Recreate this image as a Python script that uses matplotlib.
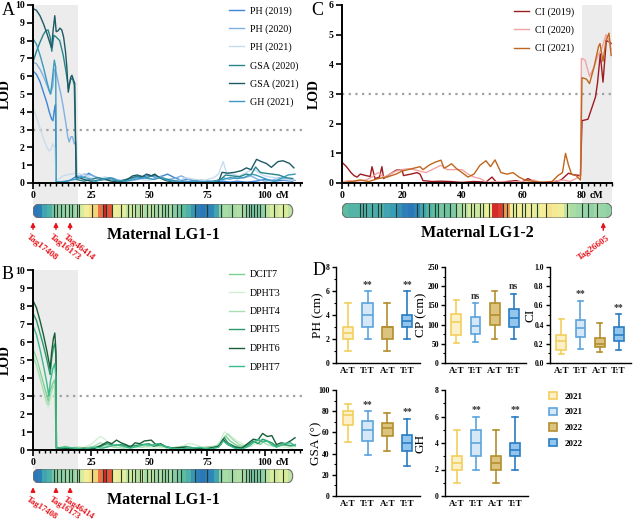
import matplotlib
matplotlib.use('Agg')
import matplotlib.pyplot as plt
import matplotlib.patches as patches
from matplotlib.colors import LinearSegmentedColormap
from matplotlib.ticker import MultipleLocator

plt.rcParams['font.family'] = 'Liberation Serif'

W, H = 633, 526

# ---------------- data: panel A (LG1-1, plant height / angle traits) ----------------
a_names = ['PH (2019)', 'PH (2020)', 'PH (2021)', 'GSA (2020)', 'GSA (2021)', 'GH (2021)']
a_colors = ['#3d85d8', '#7fb1e3', '#c8dcef', '#27848a', '#1e5a66', '#3a9bbd']
ph2019 = [(0, 6.3), (1.5, 6.1), (3, 5.7), (4.5, 5.1), (6, 4.5), (7, 4.0), (8, 3.6), (8.6, 3.5), (9.2, 4.1),
          (9.7, 4.4), (10.0, 0.05), (13, 0.05), (16, 0.15), (19, 0.4), (22, 0.3), (24, 0.55), (26, 0.4),
          (29, 0.2), (32, 0.3), (35, 0.15), (38, 0.1), (41, 0.2), (44, 0.35), (47, 0.3), (50, 0.45), (53, 0.3),
          (56, 0.4), (58, 0.5), (61, 0.3), (64, 0.15), (67, 0.2), (70, 0.1), (73, 0.15), (76, 0.1), (79, 0.05),
          (82, 0.1), (85, 0.05), (88, 0.1), (92, 0.05), (96, 0.1), (100, 0.2), (104, 0.1), (108, 0.15), (112, 0.1)]
ph2020 = [(0, 6.8), (1.5, 6.7), (3, 6.4), (4.5, 6.0), (6, 5.5), (7.5, 5.0), (8.5, 5.4), (9.2, 6.4), (10, 6.2),
          (11, 5.6), (12, 5.0), (13, 4.3), (14, 3.5), (15, 2.6), (15.6, 2.3), (16.4, 2.6), (17, 2.6), (17.8, 2.2),
          (18.5, 2.3), (18.9, 0.3), (22, 0.5), (25, 0.45), (28, 0.3), (31, 0.2), (34, 0.3), (37, 0.15), (40, 0.1),
          (43, 0.25), (46, 0.2), (49, 0.3), (52, 0.2), (55, 0.35), (58, 0.2), (61, 0.25), (64, 0.4), (67, 0.2),
          (70, 0.15), (73, 0.1), (76, 0.05), (79, 0.1), (82, 0.3), (85, 0.2), (88, 0.35), (91, 0.3), (94, 0.4),
          (97, 0.2), (100, 0.1), (103, 0.15), (106, 0.3), (110, 0.2), (113, 0.15)]
ph2021 = [(0, 4.2), (1.5, 3.7), (3, 3.1), (4.5, 2.5), (6, 2.0), (7, 1.8), (7.6, 1.85), (8.6, 2.2), (9.4, 2.0),
          (10.0, 0.1), (13, 0.4), (16, 0.5), (19, 0.55), (22, 0.45), (25, 0.3), (28, 0.2), (31, 0.35), (34, 0.2),
          (38, 0.15), (42, 0.1), (46, 0.2), (50, 0.15), (54, 0.3), (58, 0.2), (62, 0.1), (66, 0.3), (70, 0.2),
          (74, 0.15), (78, 0.3), (80, 0.5), (82, 1.2), (83.5, 0.55), (86, 0.5), (89, 0.4), (92, 0.6), (95, 0.8),
          (97, 0.6), (100, 0.4), (104, 0.3), (108, 0.2), (112, 0.15)]
gsa2020 = [(0, 6.8), (1.5, 7.4), (3, 7.9), (4.5, 8.35), (5.5, 8.55), (6.5, 8.6), (7.4, 8.2), (8.1, 7.4), (9, 8.3),
           (10, 8.2), (11.5, 8.0), (13, 7.2), (14.3, 6.2), (15.3, 5.3), (16.2, 5.8), (17, 5.9), (17.8, 5.5),
           (18.7, 0.2), (22, 0.1), (25, 0.2), (28, 0.3), (31, 0.2), (34, 0.25), (37, 0.1), (40, 0.2), (43, 0.3),
           (46, 0.4), (49, 0.3), (52, 0.45), (55, 0.3), (58, 0.2), (62, 0.1), (66, 0.05), (70, 0.1), (74, 0.05),
           (78, 0.1), (81, 0.2), (83, 0.45), (86, 0.4), (89, 0.35), (92, 0.5), (94, 0.45), (96, 0.9), (98, 0.6),
           (100, 0.55), (103, 0.5), (106, 0.45), (109, 0.3), (112, 0.25)]
gsa2021 = [(0, 9.8), (1.5, 9.7), (3, 9.4), (4.5, 8.95), (6, 8.4), (7.2, 7.9), (8, 7.6), (8.7, 8.6), (9.4, 9.4),
           (10, 8.5), (10.8, 8.55), (11.6, 8.7), (12.4, 8.6), (13.2, 8.2), (14, 7.4), (14.6, 6.5), (15.2, 5.1),
           (15.8, 5.6), (16.3, 5.95), (16.8, 6.05), (17.4, 5.8), (18.0, 5.6), (18.6, 0.35), (22, 0.2), (25, 0.1),
           (28, 0.15), (31, 0.2), (34, 0.1), (37, 0.05), (40, 0.15), (43, 0.4), (45, 0.45), (47, 0.35), (49, 0.5),
           (51, 0.4), (52.5, 0.5), (54.5, 0.3), (57, 0.15), (60, 0.05), (64, 0.0), (68, 0.05), (72, 0.0),
           (76, 0.05), (80, 0.05), (81.5, 0.6), (84, 0.55), (87, 0.6), (90, 0.7), (92, 0.85), (94, 0.75),
           (96.4, 1.33), (98.5, 1.2), (100.6, 1.1), (102.8, 0.88), (105.6, 1.2), (107.8, 1.25), (110.6, 1.1),
           (112.5, 0.85)]
gh2021 = [(0, 8.1), (1.5, 7.8), (3, 7.2), (4.5, 6.5), (6, 5.7), (7, 5.2), (7.6, 5.0), (8.4, 5.9), (9.2, 6.9),
          (9.8, 6.5), (10.0, 0.05), (14, 0.1), (18, 0.2), (21, 0.35), (24, 0.25), (27, 0.1), (30, 0.2), (33, 0.3),
          (36, 0.15), (40, 0.1), (44, 0.2), (48, 0.3), (52, 0.2), (55, 0.3), (58, 0.15), (62, 0.1), (66, 0.05),
          (70, 0.1), (74, 0.05), (78, 0.1), (82, 0.2), (85, 0.3), (88, 0.25), (91, 0.3), (94, 0.5), (96, 0.45),
          (98, 0.35), (101, 0.2), (104, 0.1), (107, 0.25), (110, 0.45), (113, 0.5)]

# ---------------- data: panel B (LG1-1, dynamic traits) ----------------
b_names = ['DCIT7', 'DPHT3', 'DPHT4', 'DPHT5', 'DPHT6', 'DPHT7']
b_colors = ['#7fcf8e', '#d4efd6', '#a8dfb2', '#2a9a6a', '#1a5e38', '#3dbb8e']
dcit7 = [(0, 5.6), (1.5, 5.1), (3, 4.4), (4.5, 3.7), (6, 3.0), (6.6, 2.7), (7.5, 3.3), (8.5, 3.7), (9.4, 3.9),
         (10.1, 0.1), (14, 0.2), (17, 0.1), (20, 0.15), (24, 0.1), (28, 0.2), (31, 0.15), (34, 0.25), (37, 0.2),
         (40, 0.3), (43, 0.15), (46, 0.25), (49, 0.2), (52, 0.3), (55, 0.25), (58, 0.1), (62, 0.15), (66, 0.05),
         (70, 0.1), (74, 0.15), (78, 0.2), (81, 0.35), (83, 0.8), (85, 0.5), (88, 0.25), (91, 0.15), (94, 0.35),
         (96, 0.5), (98, 0.3), (100, 0.55), (102, 0.4), (105, 0.2), (108, 0.3), (111, 0.2), (113, 0.2)]
dpht3 = [(0, 5.4), (1.5, 4.9), (3, 4.1), (4.5, 3.3), (6, 2.5), (6.5, 2.3), (7.5, 2.8), (8.5, 3.1), (9.3, 3.0),
         (10.1, 0.05), (14, 0.1), (18, 0.05), (22, 0.15), (25, 0.3), (27.5, 0.6), (29, 0.75), (31, 0.6), (33, 0.3),
         (36, 0.2), (40, 0.1), (44, 0.15), (48, 0.2), (52, 0.1), (56, 0.15), (60, 0.1), (64, 0.2), (67, 0.35),
         (70, 0.3), (73, 0.15), (77, 0.1), (80, 0.3), (82.5, 1.0), (85, 0.8), (88, 0.5), (91, 0.3), (94, 0.2),
         (97, 0.4), (100, 0.6), (103, 0.35), (106, 0.2), (109, 0.15), (112, 0.1)]
dpht4 = [(0, 5.2), (1.5, 4.7), (3, 4.0), (4.5, 3.3), (6, 2.6), (6.7, 2.5), (7.6, 3.1), (8.6, 3.5), (9.4, 3.6),
         (10.1, 0.05), (14, 0.05), (18, 0.15), (22, 0.1), (26, 0.2), (29, 0.4), (32, 0.25), (35, 0.15), (39, 0.1),
         (43, 0.2), (47, 0.15), (51, 0.25), (55, 0.2), (59, 0.1), (63, 0.15), (67, 0.1), (71, 0.05), (75, 0.1),
         (79, 0.2), (82, 0.6), (84, 0.9), (86, 0.6), (89, 0.3), (92, 0.2), (95, 0.45), (98, 0.55), (101, 0.3),
         (104, 0.2), (107, 0.3), (110, 0.25), (113, 0.2)]
dpht5 = [(0, 7.6), (1.5, 7.2), (3, 6.5), (4.5, 5.8), (6, 5.0), (7, 4.4), (7.4, 4.2), (8.0, 5.0), (8.8, 5.7),
         (9.4, 5.9), (9.9, 5.2), (10.1, 0.1), (14, 0.05), (18, 0.1), (22, 0.05), (26, 0.1), (29, 0.2), (32, 0.35),
         (35, 0.25), (38, 0.3), (41, 0.2), (44, 0.25), (47, 0.3), (50, 0.35), (52, 0.2), (55, 0.3), (58, 0.15),
         (62, 0.1), (66, 0.2), (70, 0.1), (74, 0.05), (78, 0.1), (81, 0.3), (82.5, 0.7), (84, 0.4), (87, 0.2),
         (90, 0.1), (93, 0.3), (95, 0.5), (97, 0.35), (99, 0.6), (101, 0.5), (103, 0.4), (105, 0.2), (108, 0.3),
         (111, 0.25), (113, 0.3)]
dpht6 = [(0, 8.3), (1.5, 7.9), (3, 7.2), (4.5, 6.4), (6, 5.5), (7, 4.8), (7.4, 4.5), (8.0, 5.4), (8.8, 6.2),
         (9.4, 6.5), (9.9, 5.5), (10.1, 0.1), (14, 0.1), (18, 0.05), (22, 0.1), (26, 0.05), (30, 0.3), (32, 0.45),
         (34, 0.35), (36, 0.55), (38, 0.4), (40, 0.3), (42, 0.15), (44, 0.4), (46, 0.35), (48, 0.5), (51, 0.55),
         (53, 0.3), (55, 0.35), (57, 0.2), (60, 0.1), (64, 0.15), (68, 0.05), (72, 0.05), (76, 0.1), (80, 0.2),
         (82, 0.6), (84, 0.3), (87, 0.15), (90, 0.1), (93, 0.4), (95, 0.6), (97, 0.55), (99, 0.92), (101, 0.75),
         (103, 0.8), (105, 0.3), (107, 0.4), (109, 0.35), (111, 0.5), (113, 0.68)]
dpht7 = [(0, 6.9), (1.5, 6.4), (3, 5.6), (4.5, 4.7), (6, 3.7), (6.8, 3.0), (7.5, 3.8), (8.5, 4.5), (9.4, 4.8),
         (9.9, 4.0), (10.1, 0.1), (14, 0.15), (18, 0.1), (22, 0.05), (26, 0.15), (30, 0.1), (33, 0.2), (36, 0.3),
         (39, 0.2), (42, 0.1), (45, 0.2), (48, 0.3), (51, 0.25), (54, 0.35), (57, 0.2), (60, 0.1), (64, 0.05),
         (68, 0.1), (72, 0.15), (76, 0.05), (80, 0.15), (82, 0.5), (84, 0.3), (87, 0.1), (90, 0.05), (93, 0.2),
         (95, 0.4), (97, 0.6), (99, 0.45), (101, 0.5), (103, 0.3), (105, 0.15), (108, 0.35), (111, 0.4), (113, 0.25)]

# ---------------- data: panel C (LG1-2, CI) ----------------
c_names = ['CI (2019)', 'CI (2020)', 'CI (2021)']
c_colors = ['#9e1b20', '#f3a3a3', '#c0661e']
ci2019 = [(0, 0.7), (1.5, 0.55), (3, 0.35), (4, 0.25), (5, 0.2), (6.1, 0.3), (8, 0.25), (9.4, 0.22), (10, 0.55),
          (11, 0.15), (12.5, 0.2), (13.3, 0.55), (13.9, 0.15), (16, 0.3), (18, 0.43), (20, 0.45), (20.5, 0.25),
          (23, 0.3), (25, 0.35), (26, 0.3), (27, 0.08), (30, 0.05), (33, 0.06), (36, 0.05), (40, 0.02), (44, 0.05),
          (48, 0.03), (50, 0.2), (51.5, 0.02), (55, 0.05), (58, 0.08), (60, 0.03), (62, 0.15), (64, 0.05),
          (66, 0.02), (70, 0.02), (73, 0.1), (75.5, 0.33), (77, 0.28), (79.5, 0.25), (80.0, 2.1), (82, 2.15),
          (83.5, 2.6), (84.5, 2.9), (85.2, 3.4), (86.1, 4.35), (87, 3.4), (88.1, 4.8), (89.2, 4.75), (89.7, 4.7)]
ci2020 = [(0, 0.03), (2, 0.08), (4, 0.05), (6, 0.08), (8, 0.1), (10, 0.2), (12, 0.35), (14, 0.2), (16, 0.3),
          (18, 0.4), (20, 0.45), (22, 0.48), (24, 0.45), (26, 0.4), (28, 0.35), (30, 0.45), (33, 0.6), (35, 0.45),
          (37, 0.45), (40, 0.45), (42, 0.3), (44, 0.2), (46, 0.15), (47, 0.1), (48, 0.02), (52, 0.05), (56, 0.02),
          (60, 0.05), (64, 0.1), (66, 0.02), (70, 0.05), (74, 0.1), (76, 0.05), (78, 0.15), (79.5, 0.25),
          (79.8, 4.2), (81, 4.15), (82.5, 3.6), (84, 3.9), (85.5, 4.35), (86.5, 4.5), (88, 5.0), (89, 4.8),
          (89.7, 4.5)]
ci2021 = [(0, 0.0), (3, 0.05), (6, 0.1), (9, 0.05), (12, 0.15), (15, 0.2), (18, 0.3), (20, 0.4), (22, 0.45),
          (24, 0.5), (26, 0.55), (27, 0.45), (29, 0.6), (31, 0.7), (33, 0.77), (34, 0.5), (35, 0.55), (36.5, 0.65),
          (38, 0.5), (40, 0.35), (42, 0.2), (44, 0.3), (46, 0.6), (48, 0.75), (49.5, 0.55), (51, 0.78), (53, 0.35),
          (55, 0.3), (57, 0.35), (59, 0.2), (61, 0.1), (64, 0.05), (67, 0.02), (70, 0.05), (72, 0.25), (73.5, 0.35),
          (74.5, 1.0), (75.5, 0.6), (76.5, 0.3), (78, 0.25), (79.5, 0.1), (80, 3.55), (81.5, 3.5), (82.5, 3.35),
          (84, 3.9), (85.5, 4.6), (86, 4.7), (87, 4.1), (88, 4.8), (89, 5.05), (89.7, 4.3)]

# ---------------- data: linkage group bars (marker density per 2 cM bin, marker positions) ----------------
lg11_density = [0.0, 0.02, 0.15, 0.2, 0.3, 0.35, 0.35, 0.38, 0.35, 0.4, 0.5, 0.62, 0.66, 0.7, 0.85, 1.0, 0.9,
                0.6, 0.58, 0.55, 0.45, 0.5, 0.42, 0.5, 0.4, 0.45, 0.38, 0.42, 0.36, 0.4, 0.33, 0.3, 0.25, 0.2,
                0.1, 0.03, 0.0, 0.02, 0.05, 0.15, 0.35, 0.4, 0.38, 0.4, 0.42, 0.38, 0.35, 0.3, 0.32, 0.35, 0.45,
                0.5, 0.48, 0.55, 0.5, 0.45]
lg11_markers = [9, 10.5, 12, 14, 15.5, 17, 19, 20, 25.5, 30, 31.5, 34, 38, 41, 42.5, 44, 46, 47, 49, 51, 52, 54,
                55.5, 57, 58, 60, 62, 64, 70, 75, 81, 86, 90, 92, 93, 94, 95.5, 96.5, 98, 100, 104, 108]
lg12_density = [0.25, 0.22, 0.22, 0.2, 0.2, 0.18, 0.2, 0.15, 0.12, 0.08, 0.03, 0.0, 0.05, 0.15, 0.22, 0.25, 0.3,
                0.28, 0.32, 0.4, 0.45, 0.5, 0.48, 0.55, 0.6, 1.0, 0.95, 0.8, 0.6, 0.62, 0.58, 0.6, 0.55, 0.62,
                0.66, 0.64, 0.6, 0.45, 0.4, 0.38, 0.36, 0.35, 0.38, 0.36, 0.35]
lg12_markers = [6, 7, 8, 10, 12, 13, 18, 25, 27, 29, 31, 32, 34, 36, 38, 40, 41, 43, 44, 46, 47, 49, 53.5, 55,
                57, 58, 60, 61, 63, 65, 68, 75, 80, 82, 85]
lg11_tags = ['Tag17408', 'Tag16173', 'Tag46414']
lg11_tag_cm = [0, 9.9, 16]
lg12_tags = ['Tag26605']
lg12_tag_cm = [87.1]

# ---------------- data: panel D box plots (whislo, q1, median, q3, whishi) ----------------
groups = ['A:T', 'T:T', 'A:T', 'T:T']
years = ['2021', '2021', '2022', '2022']
ph_stats = [(1, 2, 2.5, 3, 5), (2, 3, 4, 5, 6), (1, 2, 3, 3, 5), (2, 3, 3.5, 4, 6)]
cp_stats = [(53, 73, 108, 127, 165), (55, 75, 97, 121, 155), (62, 100, 125, 155, 187), (63, 93, 116, 140, 180)]
ci_stats = [(0.09, 0.14, 0.23, 0.29, 0.46), (0.15, 0.27, 0.36, 0.45, 0.65), (0.11, 0.17, 0.2, 0.26, 0.42),
            (0.14, 0.23, 0.29, 0.37, 0.51)]
gsa_stats = [(51, 67, 76, 80, 87), (39, 52, 62, 71, 80), (42, 57, 64, 69, 78), (28, 42, 50, 58, 73)]
gh_stats = [(1, 2, 2.5, 3, 5), (2, 3, 4, 5, 6), (1, 2, 2.5, 3, 5), (2, 3, 3.5, 4, 6)]
ph_marks = ['', '**', '', '**']
cp_marks = ['', 'ns', '', 'ns']
ci_marks = ['', '**', '', '**']
gsa_marks = ['', '**', '', '**']
gh_marks = ['', '**', '', '**']

box_fill = ['#fcf0c8', '#d6e8f7', '#dcc47f', '#93c6ec']
box_edge = ['#f3cf5e', '#5ba4dd', '#b48f30', '#2a7cc4']

density_cmap = LinearSegmentedColormap.from_list(
    'lg', ['#2a78b8', '#3aa0b5', '#5dbba0', '#9fd8a8', '#d8eca0', '#f7ef9a', '#f6c067', '#e8603c', '#d42a2a'])

fig = plt.figure(figsize=(W / 100, H / 100), dpi=100)


def rect(x0, y0, x1, y1):
    # pixel box (top-left origin) -> figure fraction rect
    return [x0 / W, 1 - y1 / H, (x1 - x0) / W, (y1 - y0) / H]


def lod_panel(box, xmax, ymax, major, shade, bar_top, series, names, colors, leg_xy, leg_space, unit_off):
    ax = fig.add_axes(rect(*box))
    h = box[3] - box[1]
    ext = (bar_top - box[3]) / h
    ax.add_patch(patches.Rectangle((shade[0], -ext), shade[1] - shade[0], 1 + ext,
                                   transform=ax.get_xaxis_transform(), clip_on=False,
                                   facecolor='#ececec', edgecolor='none', zorder=0))
    ax.axhline(3, color='#a0a0a0', lw=1.6, ls=(0, (1, 2)), zorder=1)
    for pts, name, col in zip(series, names, colors):
        ax.plot([p[0] for p in pts], [p[1] for p in pts], color=col, lw=1.0, label=name, zorder=2)
    ax.set_xlim(0, xmax)
    ax.set_ylim(0, ymax)
    for s in ['top', 'right']:
        ax.spines[s].set_visible(False)
    for s in ['left', 'bottom']:
        ax.spines[s].set_linewidth(1.4)
    ax.xaxis.set_minor_locator(MultipleLocator(major / 10))
    ax.yaxis.set_major_locator(MultipleLocator(1))
    ax.tick_params(which='major', length=4, width=1.2, labelsize=7, pad=2)
    ax.tick_params(which='minor', length=2.5, width=1.0)
    ax.tick_params(axis='x', pad=1.5)
    ticks = [t for t in range(0, int(xmax) + 1, major)]
    ax.set_xticks(ticks)
    ax.set_xticklabels([str(t) for t in ticks])
    for lab in ax.get_xticklabels() + ax.get_yticklabels():
        lab.set_fontweight('bold')
    # unit after the last tick label
    ax.annotate('cM', xy=(ticks[-1], 0), xycoords=ax.get_xaxis_transform(), xytext=(unit_off, -5.5),
                textcoords='offset points', fontsize=7, fontweight='bold', ha='left', va='top')
    ax.set_ylabel('LOD', fontsize=10, fontweight='bold')
    ax.yaxis.set_label_coords(-21 / (box[2] - box[0]), 0.5)
    ax.legend(loc='upper left', bbox_to_anchor=(leg_xy[0] / W, 1 - leg_xy[1] / H),
              bbox_transform=fig.transFigure, frameon=False, fontsize=7.2, handlelength=1.5,
              handletextpad=0.6, labelspacing=leg_space, borderpad=0, borderaxespad=0)
    return ax


def chrom_bar(box, xmax, density, markers, tag_cm, tags, left_tags, arrow_len, tag_size, tag_rot,
              title_xy, title):
    ax = fig.add_axes(rect(*box))
    length = len(density) * 2
    r = (box[3] - box[1]) / 2 / ((box[2] - box[0]) / xmax)
    outline = patches.FancyBboxPatch((0, 0), length, 1, boxstyle=f'round,pad=0,rounding_size={r}',
                                     mutation_aspect=0.5 / r, facecolor='none', edgecolor='#6b6b6b',
                                     lw=0.8, zorder=3)
    ax.add_patch(outline)
    im = ax.imshow([density], extent=(0, length, 0, 1), aspect='auto', cmap=density_cmap, vmin=0, vmax=1,
                   interpolation='nearest', zorder=1)
    im.set_clip_path(outline)
    vl = ax.vlines(markers, 0, 1, color='#243a2c', lw=0.8, zorder=2)
    vl.set_clip_path(outline)
    ax.set_xlim(0, xmax)
    ax.set_ylim(0, 1)
    ax.axis('off')
    for cm, tag in zip(tag_cm, tags):
        ax.annotate('', xy=(cm, -0.1), xytext=(cm, -arrow_len), annotation_clip=False,
                    arrowprops=dict(arrowstyle='-|>', color='#e8141c', lw=1.1, mutation_scale=6))
        if left_tags:
            ax.text(cm - 1.5, -arrow_len - 0.05, tag, rotation=-tag_rot, rotation_mode='anchor', ha='left',
                    va='top', color='#e8141c', fontsize=tag_size, fontweight='bold')
        else:
            ax.text(cm + 1.2, -arrow_len - 0.05, tag, rotation=tag_rot, rotation_mode='anchor', ha='right',
                    va='top', color='#e8141c', fontsize=tag_size, fontweight='bold')
    fig.text(title_xy[0] / W, 1 - title_xy[1] / H, title, fontsize=11.5, fontweight='bold',
             ha='center', va='center')


def box_panel(box, stats, ylim, step, ylabel, marks, label_x):
    ax = fig.add_axes(rect(*box))
    bstats = [dict(whislo=s[0], q1=s[1], med=s[2], q3=s[3], whishi=s[4], fliers=[]) for s in stats]
    parts = ax.bxp(bstats, positions=[1, 2, 3, 4], widths=0.52, patch_artist=True, showfliers=False,
                   capwidths=0.3)
    for i in range(4):
        parts['boxes'][i].set_facecolor(box_fill[i])
        parts['boxes'][i].set_edgecolor(box_edge[i])
        parts['boxes'][i].set_linewidth(1.2)
        parts['medians'][i].set_color(box_edge[i])
        parts['medians'][i].set_linewidth(1.2)
        for k in (2 * i, 2 * i + 1):
            parts['whiskers'][k].set_color(box_edge[i])
            parts['whiskers'][k].set_linewidth(1.2)
            parts['caps'][k].set_color(box_edge[i])
            parts['caps'][k].set_linewidth(1.2)
        if marks[i]:
            ax.text(i + 1, stats[i][4] + ylim * 0.025, marks[i], ha='center', va='bottom',
                    fontsize=7, fontweight='bold', color='#333333')
    ax.set_xlim(0.4, 4.65)
    ax.set_ylim(0, ylim)
    ax.yaxis.set_major_locator(MultipleLocator(step))
    ax.yaxis.set_minor_locator(MultipleLocator(step / 2))
    ax.set_xticks([1, 2, 3, 4])
    ax.set_xticklabels(groups)
    for s in ['top', 'right']:
        ax.spines[s].set_visible(False)
    for s in ['left', 'bottom']:
        ax.spines[s].set_linewidth(1.0)
    ax.tick_params(which='major', length=3, width=1.0, labelsize=5.5, pad=1.5)
    ax.tick_params(which='minor', length=1.8, width=0.8)
    ax.tick_params(axis='x', labelsize=6.5, length=0, pad=3)
    if step < 1:
        ax.set_yticks([round(v * step, 1) for v in range(int(ylim / step) + 1)])
        ax.set_yticklabels([f'{v * step:.1f}' for v in range(int(ylim / step) + 1)])
    for lab in ax.get_xticklabels() + ax.get_yticklabels():
        lab.set_fontweight('bold')
    ax.set_ylabel(ylabel, fontsize=9.5)
    ax.yaxis.set_label_coords(-(box[0] - label_x) / (box[2] - box[0]), 0.5)
    return ax


# panel A
lod_panel((33, 5, 302, 183), 116, 10, 25, (0, 19.3), 204,
          [ph2019, ph2020, ph2021, gsa2020, gsa2021, gh2021], a_names, a_colors, (229, 6), 0.87, 7.5)
chrom_bar((33, 204, 302, 218), 116, lg11_density, lg11_markers, lg11_tag_cm, lg11_tags, True,
          1.0, 6.6, 38, (163, 235), 'Maternal LG1-1')

# panel B
lod_panel((33, 270, 302, 450), 116, 10, 25, (0, 19.3), 469,
          [dcit7, dpht3, dpht4, dpht5, dpht6, dpht7], b_names, b_colors, (229, 270), 0.95, 7.5)
chrom_bar((33, 469, 302, 483), 116, lg11_density, lg11_markers, lg11_tag_cm, lg11_tags, True,
          0.8, 6.2, 33, (163, 500), 'Maternal LG1-1')

# panel C
lod_panel((342, 5, 612, 183), 90, 6, 20, (80, 90), 203,
          [ci2019, ci2020, ci2021], c_names, c_colors, (514, 7), 0.88, 5.5)
chrom_bar((342, 203, 612, 218), 90, lg12_density, lg12_markers, lg12_tag_cm, lg12_tags, False,
          1.0, 6.6, 35, (477, 233), 'Maternal LG1-2')

# panel D
box_panel((336, 267, 420, 363), ph_stats, 8, 2, 'PH (cm)', ph_marks, 324)
box_panel((445, 267, 526, 363), cp_stats, 250, 50, 'CP (cm)', cp_marks, 427)
box_panel((550, 267, 631, 363), ci_stats, 1.0, 0.2, 'CI', ci_marks, 536)
box_panel((336, 390, 420, 496), gsa_stats, 100, 20, 'GSA (°)', gsa_marks, 322)
box_panel((445, 390, 528, 496), gh_stats, 8, 2, 'GH', gh_marks, 427)

handles = [patches.Patch(facecolor=f, edgecolor=e, lw=1.2, label=y) for f, e, y in zip(box_fill, box_edge, years)]
fig.legend(handles=handles, loc='upper left', bbox_to_anchor=(549 / W, 1 - 392 / H), frameon=False,
           prop={'size': 6.5, 'weight': 'bold'}, handlelength=0.9, handleheight=0.9, labelspacing=0.75,
           handletextpad=0.8, borderpad=0, borderaxespad=0)

# panel letters
for letter, x, y in [('A', 2, 2), ('B', 2, 266), ('C', 311, 2), ('D', 313, 262)]:
    fig.text(x / W, 1 - y / H, letter, fontsize=13, ha='left', va='top')

fig.savefig('out.png', dpi=100)
